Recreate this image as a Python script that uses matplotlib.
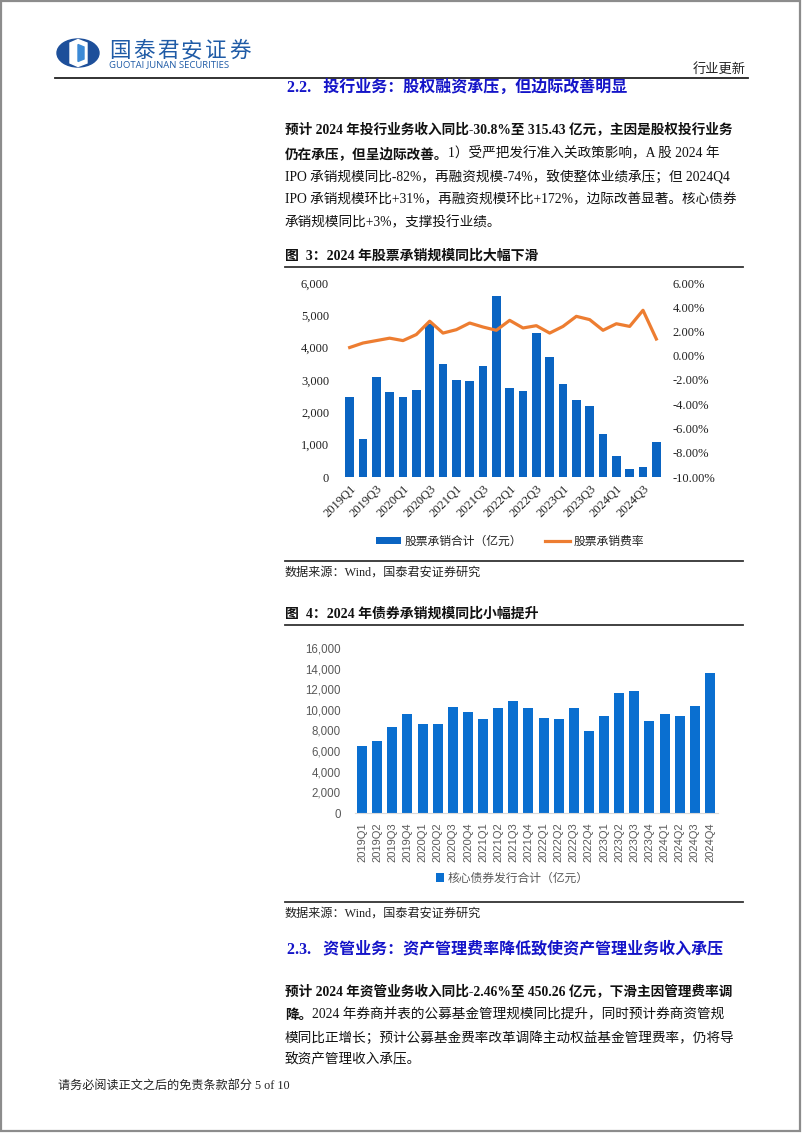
import matplotlib
matplotlib.use('Agg')
import matplotlib.pyplot as plt
from matplotlib.patches import Rectangle, Polygon, Ellipse
from matplotlib.ticker import FuncFormatter
import numpy as np

# ---------------- data ----------------
quarters = ['2019Q1', '2019Q2', '2019Q3', '2019Q4', '2020Q1', '2020Q2', '2020Q3', '2020Q4',
            '2021Q1', '2021Q2', '2021Q3', '2021Q4', '2022Q1', '2022Q2', '2022Q3', '2022Q4',
            '2023Q1', '2023Q2', '2023Q3', '2023Q4', '2024Q1', '2024Q2', '2024Q3', '2024Q4']

equity_uw = [2470, 1170, 3090, 2620, 2470, 2690, 4720, 3480, 2990, 2970, 3420, 5610,
             2760, 2660, 4460, 3720, 2870, 2390, 2210, 1330, 650, 250, 320, 1070]

equity_fee = [0.68, 1.05, 1.25, 1.45, 1.25, 1.75, 2.85, 1.87, 2.15, 2.70, 2.37, 2.10,
              2.92, 2.29, 2.48, 1.87, 2.42, 3.25, 2.98, 2.10, 2.64, 2.42, 3.75, 1.38]

bond_uw = [6520, 6980, 8360, 9610, 8660, 8590, 10260, 9800, 9150, 10160, 10850, 10230,
           9180, 9150, 10160, 8000, 9380, 11610, 11800, 8920, 9640, 9380, 10390, 13570]

label_eq_bar = '股票承销合计（亿元）'
label_eq_line = '股票承销费率'
label_bond = '核心债券发行合计（亿元）'

# ---------------- setup ----------------
W, H = 802, 1133
fig = plt.figure(figsize=(W / 100, H / 100), dpi=100)
fig.patch.set_facecolor('white')

SERIF = ['Liberation Serif', 'Noto Sans CJK SC', 'DejaVu Sans']
SANS = ['Liberation Sans', 'Noto Sans CJK SC', 'DejaVu Sans']
CJK = ['Noto Sans CJK SC', 'DejaVu Sans']


def fx(x):
    return x / W


def fy(y):
    return 1 - y / H


# background axes in pixel coordinates
bg = fig.add_axes([0, 0, 1, 1], zorder=-5)
bg.set_xlim(0, W)
bg.set_ylim(H, 0)
bg.axis('off')

# page border
bg.add_patch(Rectangle((1, 1), W - 3, H - 3, fill=False, edgecolor='#8c8c8c', lw=1.6))

# logo
bg.add_patch(Ellipse((78, 53), 42, 28, color='#1d4f9a'))
bg.add_patch(Polygon([(70, 43), (78, 39.5), (87, 43), (87, 63), (78, 66.5), (70, 63)],
                     closed=True, color='white'))
bg.add_patch(Polygon([(78, 44.5), (84, 47), (84, 59), (78, 61.5)], closed=True, color='#3c8ad6'))
for i, ch in enumerate('国泰君安证券'):
    bg.text(109 + i * 24, 51, ch, fontsize=15.5, family=CJK, color='#1f5ba6',
            fontweight='medium', ha='left', va='center')
bg.text(109, 65, 'GUOTAI JUNAN SECURITIES', fontsize=6.8, family=['Open Sans', 'DejaVu Sans'],
        color='#1f5ba6', ha='left', va='center')
bg.text(746, 69, '行业更新', fontsize=9.5, family=CJK, color='#222222', ha='right', va='center')
bg.plot([55, 748], [77.5, 77.5], color='#222222', lw=1.3)

BLUE_T = '#1414c8'
BODY = 9.8


def line_parts(x, y, parts, size=BODY):
    prev = None
    for s, w in parts:
        if prev is None:
            prev = bg.text(x, y, s, fontsize=size, fontweight=w, family=SERIF,
                           color='#111111', ha='left', va='center')
        else:
            prev = bg.annotate(s, xy=(1, 0.5), xycoords=prev, fontsize=size, fontweight=w,
                               family=SERIF, color='#111111', ha='left', va='center')


# section 2.2
bg.text(287, 88, '2.2.   投行业务：股权融资承压，但边际改善明显', fontsize=11.5, fontweight='bold',
        family=SERIF, color=BLUE_T, ha='left', va='center')
line_parts(285, 130, [('预计 2024 年投行业务收入同比-30.8%至 315.43 亿元，主因是股权投行业务', 'bold')])
line_parts(285, 154, [('仍在承压，但呈边际改善。', 'bold'),
                      ('1）受严把发行准入关政策影响，A 股 2024 年', 'normal')])
line_parts(285, 177, [('IPO 承销规模同比-82%，再融资规模-74%，致使整体业绩承压；但 2024Q4', 'normal')])
line_parts(285, 200, [('IPO 承销规模环比+31%，再融资规模环比+172%，边际改善显著。核心债券', 'normal')])
line_parts(285, 223, [('承销规模同比+3%，支撑投行业绩。', 'normal')])

# figure 3 title
bg.text(285, 256, '图  3：2024 年股票承销规模同比大幅下滑', fontsize=10, fontweight='bold',
        family=SERIF, color='#111111', ha='left', va='center')
bg.plot([285, 743], [267, 267], color='#333333', lw=1.3)

# ---------------- chart 1 ----------------
x = np.arange(len(quarters))
ax1 = fig.add_axes([fx(343), fy(477), (663 - 343) / W, (477 - 283) / H])
ax1.patch.set_alpha(0)
bars = ax1.bar(x, equity_uw, width=0.64, color='#0a64c2', label=label_eq_bar, zorder=2)
ax1.set_xlim(-0.5, len(quarters) - 0.5)
ax1.set_ylim(0, 6000)
ax1.set_yticks(np.arange(0, 6001, 1000))
ax1.yaxis.set_major_formatter(FuncFormatter(lambda v, p: f'{v:,.0f}'))
ax1.set_xticks(x[::2])
ax1.set_xticklabels(quarters[::2], rotation=45, ha='right', va='top', rotation_mode='anchor',
                    family=SERIF, fontsize=9, color='#222222')
for lab in ax1.get_yticklabels():
    lab.set_family(SERIF)
    lab.set_fontsize(9)
    lab.set_color('#222222')
ax1.tick_params(axis='y', length=0, pad=10)
ax1.tick_params(axis='x', length=0, pad=4)
for s in ax1.spines.values():
    s.set_visible(False)

ax1b = ax1.twinx()
ax1b.patch.set_alpha(0)
line, = ax1b.plot(x, equity_fee, color='#ed7d31', lw=2.3, label=label_eq_line, zorder=3)
ax1b.set_ylim(-10, 6)
ax1b.set_yticks(np.arange(-10, 6.01, 2))
ax1b.yaxis.set_major_formatter(FuncFormatter(lambda v, p: f'{v:.2f}%'))
for lab in ax1b.get_yticklabels():
    lab.set_family(SERIF)
    lab.set_fontsize(9)
    lab.set_color('#222222')
ax1b.tick_params(axis='y', length=0, pad=7)
for s in ax1b.spines.values():
    s.set_visible(False)

fig.legend(handles=[bars, line], labels=[label_eq_bar, label_eq_line], loc='center',
           bbox_to_anchor=(fx(510), fy(541)), ncol=2, frameon=False,
           prop={'family': CJK, 'size': 8.5}, handlelength=2.1, handleheight=0.5,
           handletextpad=0.3, columnspacing=2.0, labelcolor='#222222')

bg.plot([285, 743], [561, 561], color='#333333', lw=1.3)
bg.text(285, 573, '数据来源：Wind，国泰君安证券研究', fontsize=8.7, family=SERIF,
        color='#222222', ha='left', va='center')

# figure 4 title
bg.text(285, 614, '图  4：2024 年债券承销规模同比小幅提升', fontsize=10, fontweight='bold',
        family=SERIF, color='#111111', ha='left', va='center')
bg.plot([285, 743], [625, 625], color='#333333', lw=1.3)

# ---------------- chart 2 ----------------
ax2 = fig.add_axes([fx(354.5), fy(813), (717.5 - 354.5) / W, (813 - 648) / H])
ax2.patch.set_alpha(0)
bars2 = ax2.bar(x, bond_uw, width=0.66, color='#0a6fd0', label=label_bond, zorder=2)
ax2.set_xlim(-0.5, len(quarters) - 0.5)
ax2.set_ylim(0, 16000)
ax2.set_yticks(np.arange(0, 16001, 2000))
ax2.yaxis.set_major_formatter(FuncFormatter(lambda v, p: f'{v:,.0f}'))
ax2.set_xticks(x)
ax2.set_xticklabels(quarters, rotation=90, family=SANS, fontsize=8, color='#595959')
for lab in ax2.get_yticklabels():
    lab.set_family(SANS)
    lab.set_fontsize(8.3)
    lab.set_color('#595959')
ax2.tick_params(axis='y', length=0, pad=10)
ax2.tick_params(axis='x', length=0, pad=7)
for k, s in ax2.spines.items():
    s.set_visible(k == 'bottom')
ax2.spines['bottom'].set_color('#d9d9d9')

ax2.legend(handles=[bars2], labels=[label_bond], loc='center',
           bbox_to_anchor=(fx(512), fy(878)), bbox_transform=fig.transFigure,
           frameon=False, prop={'family': CJK, 'size': 8.5}, handlelength=0.7,
           handleheight=0.7, handletextpad=0.3, labelcolor='#595959')

bg.plot([285, 743], [902, 902], color='#333333', lw=1.3)
bg.text(285, 914, '数据来源：Wind，国泰君安证券研究', fontsize=8.7, family=SERIF,
        color='#222222', ha='left', va='center')

# section 2.3
bg.text(287, 950, '2.3.   资管业务：资产管理费率降低致使资产管理业务收入承压', fontsize=11.5,
        fontweight='bold', family=SERIF, color=BLUE_T, ha='left', va='center')
line_parts(285, 992, [('预计 2024 年资管业务收入同比-2.46%至 450.26 亿元，下滑主因管理费率调', 'bold')])
line_parts(285, 1015, [('降。', 'bold'),
                       ('2024 年券商并表的公募基金管理规模同比提升，同时预计券商资管规', 'normal')])
line_parts(285, 1038, [('模同比正增长；预计公募基金费率改革调降主动权益基金管理费率，仍将导', 'normal')])
line_parts(285, 1060, [('致资产管理收入承压。', 'normal')])

# footer
bg.text(58, 1086, '请务必阅读正文之后的免责条款部分 5 of 10', fontsize=8.7, family=SERIF,
        color='#222222', ha='left', va='center')

fig.savefig('out.png', dpi=100, facecolor='white')
